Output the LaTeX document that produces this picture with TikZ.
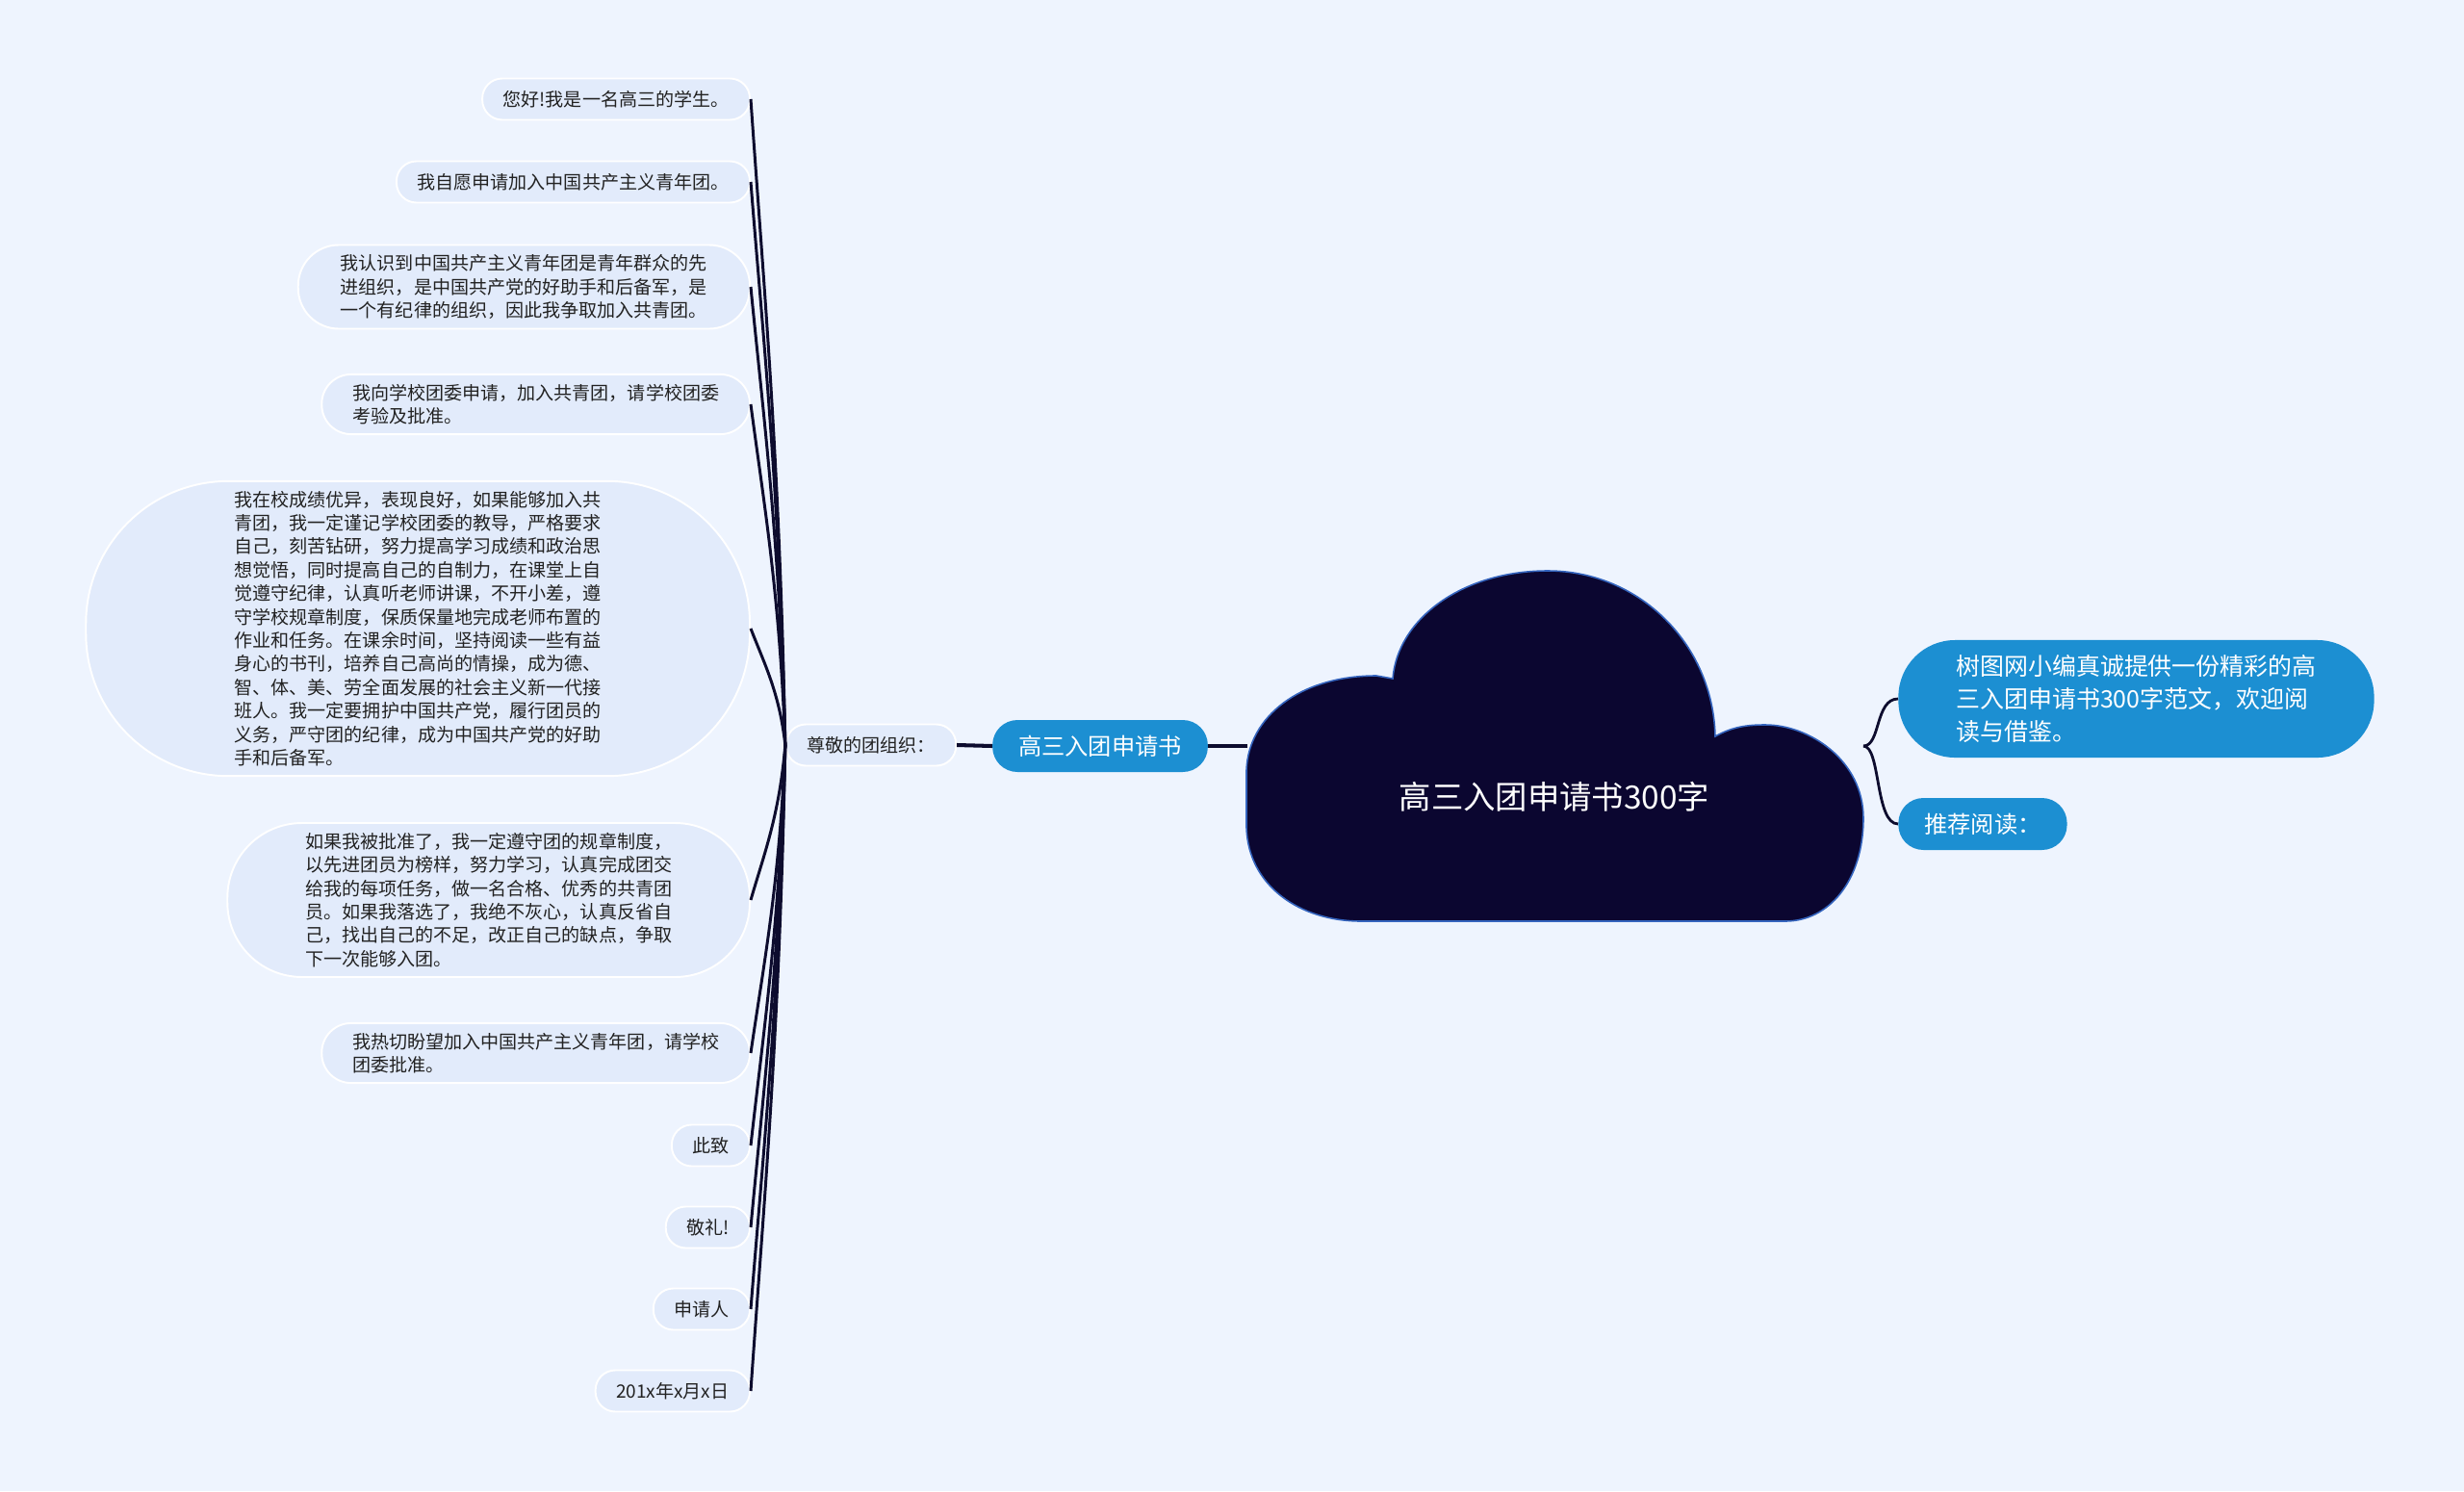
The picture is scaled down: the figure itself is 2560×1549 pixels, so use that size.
\documentclass[tikz,border=0pt]{standalone}
\usepackage{fontspec}
\setmainfont{Noto Sans CJK SC}
\definecolor{bgblue}{HTML}{EEF4FE}
\definecolor{leafblue}{HTML}{E2EBFB}
\definecolor{topicblue}{HTML}{1C8FD2}
\definecolor{cloudnavy}{HTML}{0B0630}
\definecolor{cloudedge}{HTML}{3464BE}
\definecolor{linenavy}{HTML}{0D0C2E}
\definecolor{leaftext}{HTML}{222222}

\begin{document}
\begin{tikzpicture}[x=0.02cm, y=-0.02cm,
    leaf/.style={rectangle, fill=leafblue, draw=white, line width=1.1pt,
                 inner ysep=0.2cm, minimum height=0.86cm,
                 align=left, text=leaftext,
                 font=\fontsize{10.85}{13.9}\selectfont},
    topic/.style={rectangle, fill=topicblue, text=white,
                  inner ysep=0.2cm, minimum height=1.08cm,
                  align=left, font=\fontsize{13.8}{19.3}\selectfont},
    branch/.style={linenavy, line width=1.7pt},
    trunk/.style={linenavy, line width=2.3pt},
    brace/.style={linenavy, line width=1.6pt},
  ]
  \fill[bgblue] (0,0) rectangle (2560,1549);
  \useasboundingbox (0,0) rectangle (2560,1549);
  %% Central cloud
  \filldraw[fill=cloudnavy, draw=cloudedge, line width=0.9pt]
    (1414,957) .. controls (1350,957) and (1297,920) .. (1295,860)
    -- (1295,800) .. controls (1297,745) and (1350,702) .. (1430,702)
    -- (1447,705) .. controls (1452,643) and (1519,593) .. (1608,593)
    .. controls (1704,593) and (1780,670) .. (1782,765)
    .. controls (1800,755) and (1815,753) .. (1834,753)
    .. controls (1880,753) and (1936,790) .. (1936,850)
    .. controls (1936,915) and (1900,957) .. (1855,957) -- cycle;
  \node[text=white, font=\fontsize{19}{23}\selectfont] (root) at (1615,828)
        {高三入团申请书300字};
  \coordinate (cloudW) at (1296,775);
  \coordinate (cloudE) at (1936,775);
  %% Left branch
  \node[topic, rounded corners=0.52cm, inner xsep=0.54cm] (main) at (1143,775)
        {高三入团申请书};
  \node[leaf, rounded corners=0.41cm, inner xsep=0.43cm] (zunjing) at (905,774)
        {尊敬的团组织：};
  \draw[trunk] (zunjing.east) -- (main.west);
  \draw[trunk] (main.east) -- (cloudW);
  %% Letter paragraphs
  \foreach \i/\ypos/\nl/\txt in {
      1/103/1/{您好!我是一名高三的学生。},
      2/189/1/{我自愿申请加入中国共产主义青年团。},
      3/298/3/{我认识到中国共产主义青年团是青年群众的先\\进组织，是中国共产党的好助手和后备军，是\\一个有纪律的组织，因此我争取加入共青团。},
      4/420/2/{我向学校团委申请，加入共青团，请学校团委\\考验及批准。},
      5/653/12/{我在校成绩优异，表现良好，如果能够加入共\\青团，我一定谨记学校团委的教导，严格要求\\自己，刻苦钻研，努力提高学习成绩和政治思\\想觉悟，同时提高自己的自制力，在课堂上自\\觉遵守纪律，认真听老师讲课，不开小差，遵\\守学校规章制度，保质保量地完成老师布置的\\作业和任务。在课余时间，坚持阅读一些有益\\身心的书刊，培养自己高尚的情操，成为德、\\智、体、美、劳全面发展的社会主义新一代接\\班人。我一定要拥护中国共产党，履行团员的\\义务，严守团的纪律，成为中国共产党的好助\\手和后备军。},
      6/935/6/{如果我被批准了，我一定遵守团的规章制度，\\以先进团员为榜样，努力学习，认真完成团交\\给我的每项任务，做一名合格、优秀的共青团\\员。如果我落选了，我绝不灰心，认真反省自\\己，找出自己的不足，改正自己的缺点，争取\\下一次能够入团。},
      7/1094/2/{我热切盼望加入中国共产主义青年团，请学校\\团委批准。},
      8/1190/1/{此致},
      9/1275/1/{敬礼!},
      10/1360/1/{申请人},
      11/1445/1/{201x年x月x日}}{
    \pgfmathsetmacro{\hh}{max(0.86, 0.02*(24.5*\nl+14.5))}
    \pgfmathsetmacro{\rr}{0.48*\hh}
    \pgfmathsetmacro{\xs}{0.5*\hh}
    \node[leaf, anchor=east, rounded corners=\rr cm, inner xsep=\xs cm]
          (leaf\i) at (780,\ypos) {\txt};
  }
  \foreach \i/\ypos in {1/103,2/189,3/298,4/420,5/653,6/935,
                        7/1094,8/1190,9/1275,10/1360,11/1445}{
    \pgfmathsetmacro{\ca}{0.45*(\ypos-774)}
    \pgfmathsetmacro{\cb}{-0.3*(\ypos-774)}
    \draw[branch] (zunjing.west) .. controls +(-6,\ca) and +(14,\cb) .. (leaf\i.east);
  }
  %% Right branch
  \node[topic, anchor=west, inner ysep=0.31cm, rounded corners=1.18cm,
        inner xsep=1.2cm, font=\fontsize{14.2}{19.3}\selectfont] (intro)
        at (1972,726)
        {树图网小编真诚提供一份精彩的高\\三入团申请书300字范文，欢迎阅\\读与借鉴。};
  \node[topic, anchor=west, rounded corners=0.52cm, inner xsep=0.54cm] (more)
        at (1972,856) {推荐阅读：};
  \draw[brace] (cloudE) .. controls +(18,0) and +(-24,0) .. (intro.west);
  \draw[brace] (cloudE) .. controls +(18,0) and +(-24,0) .. (more.west);
\end{tikzpicture}
\end{document}
